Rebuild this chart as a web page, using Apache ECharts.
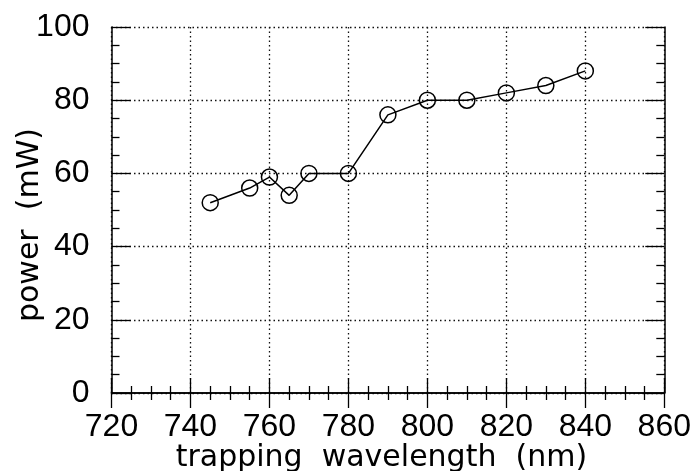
<!DOCTYPE html>
<html>
<head>
<meta charset="utf-8">
<script src="https://cdn.jsdelivr.net/npm/echarts@6/dist/echarts.min.js"></script>
<style>
html,body{margin:0;padding:0;background:#fff;}
#chart{width:696px;height:471px;}
</style>
</head>
<body>
<div id="chart"></div>
<script>
const wavelength = [745, 755, 760, 765, 770, 780, 790, 800, 810, 820, 830, 840];
const power = [52, 56, 59, 54, 60, 60, 76, 80, 80, 82, 84, 88];
const xTitle = 'trapping  wavelength  (nm)';
const yTitle = 'power  (mW)';

const font = 'DejaVu Sans';
const tickFont = 'Liberation Sans';
const chart = echarts.init(document.getElementById('chart'), null, {renderer: 'canvas'});

const axisLineStyle = {show: true, lineStyle: {color: '#000', width: 1.5}};
const gridStyle = {show: true, lineStyle: {color: '#111', width: 1.3, type: [1.5, 3]}};

chart.setOption({
  animation: false,
  backgroundColor: '#fff',
  grid: {left: 111.5, right: 31.7, top: 27, bottom: 78, containLabel: false, outerBoundsMode: 'none'},
  xAxis: [
    {
      type: 'value', min: 720, max: 860, interval: 20, position: 'bottom',
      axisLine: axisLineStyle,
      axisTick: {show: true, inside: true, length: 15, lineStyle: {color: '#000', width: 1.3}},
      minorTick: {show: true, splitNumber: 4, length: 7, lineStyle: {color: '#000', width: 1.3}},
      splitLine: gridStyle,
      axisLabel: {fontFamily: tickFont, fontSize: 32, color: '#000', margin: 18, hideOverlap: false},
      name: xTitle, nameLocation: 'middle', nameGap: 50, nameMoveOverlap: false,
      nameTextStyle: {fontFamily: font, fontSize: 30, color: '#000', padding: [0, 13, 0, 0]}
    },
    {
      type: 'value', min: 720, max: 860, interval: 20, position: 'top',
      axisLine: axisLineStyle,
      axisTick: {show: true, inside: true, length: 15, lineStyle: {color: '#000', width: 1.3}},
      minorTick: {show: true, splitNumber: 4, length: 7, lineStyle: {color: '#000', width: 1.3}},
      splitLine: {show: false},
      axisLabel: {show: false}
    }
  ],
  yAxis: [
    {
      type: 'value', min: 0, max: 100, interval: 20, position: 'left',
      axisLine: axisLineStyle,
      axisTick: {show: true, inside: true, length: 19, lineStyle: {color: '#000', width: 1.3}},
      minorTick: {show: true, splitNumber: 4, length: 8, lineStyle: {color: '#000', width: 1.3}},
      splitLine: gridStyle,
      axisLabel: {fontFamily: tickFont, fontSize: 32, color: '#000', margin: 22},
      name: yTitle, nameLocation: 'middle', nameGap: 66, nameRotate: 90, nameMoveOverlap: false,
      nameTextStyle: {fontFamily: font, fontSize: 30, color: '#000', padding: [0, 30, 0, 0]}
    },
    {
      type: 'value', min: 0, max: 100, interval: 20, position: 'right',
      axisLine: axisLineStyle,
      axisTick: {show: true, inside: true, length: 19, lineStyle: {color: '#000', width: 1.3}},
      minorTick: {show: true, splitNumber: 4, length: 8, lineStyle: {color: '#000', width: 1.3}},
      splitLine: {show: false},
      axisLabel: {show: false}
    }
  ],
  series: [{
    type: 'line',
    xAxisIndex: 0, yAxisIndex: 0,
    data: wavelength.map((w, i) => [w, power[i]]),
    symbol: 'circle',
    symbolSize: 16,
    lineStyle: {color: '#000', width: 1.5},
    itemStyle: {color: 'rgba(0,0,0,0)', borderColor: '#000', borderWidth: 1.5},
    z: 5
  }]
});
</script>
</body>
</html>
